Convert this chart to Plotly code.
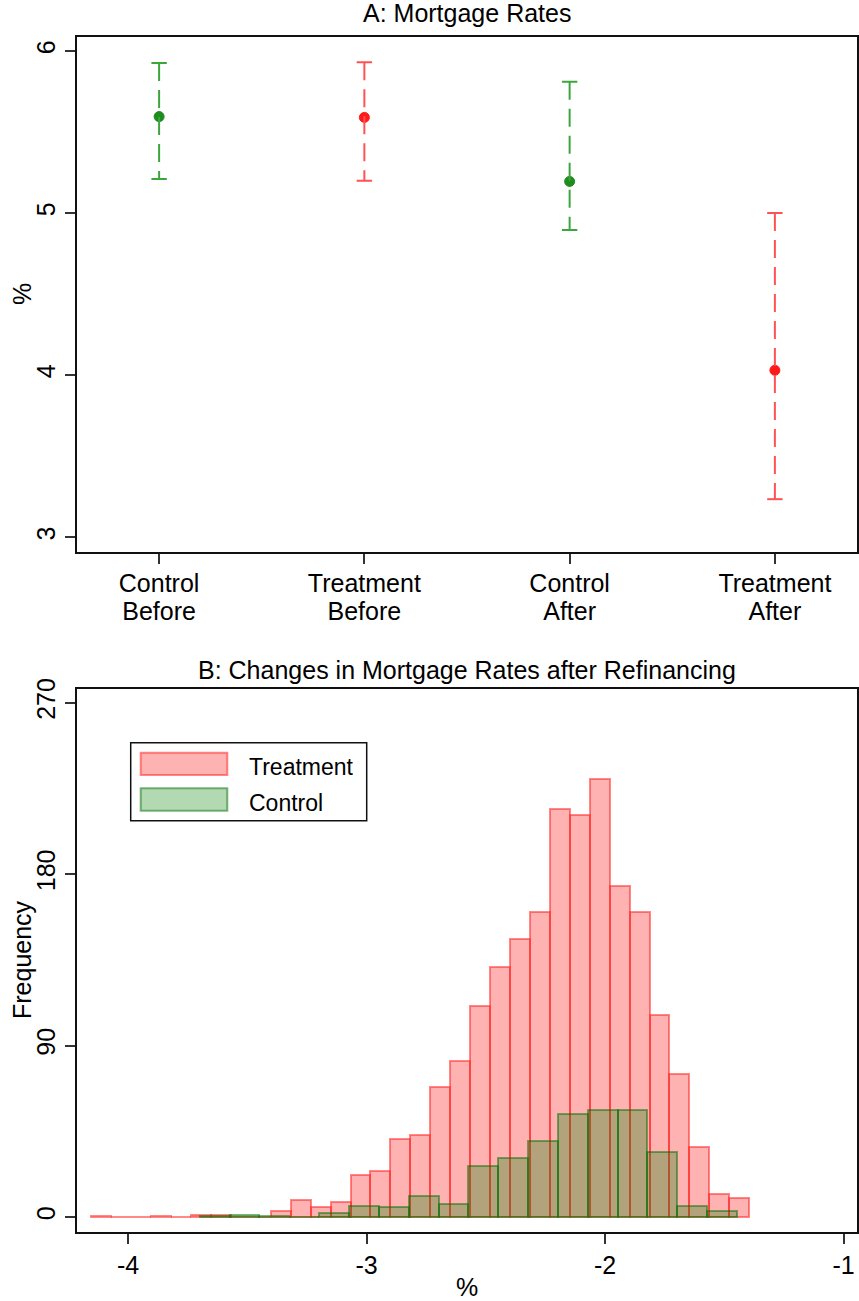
import plotly.graph_objects as go
from plotly.subplots import make_subplots

# ---------------- Panel A data ----------------
group_line1 = ["Control", "Treatment", "Control", "Treatment"]
group_line2 = ["Before", "Before", "After", "After"]
means = [5.595, 5.59, 5.195, 4.03]
ci_low = [5.21, 5.20, 4.895, 3.235]
ci_high = [5.925, 5.93, 5.81, 5.00]
group_is_treatment = [False, True, False, True]

# ---------------- Panel B data ----------------
treat_start = -4.154
treat_width = 0.08358
treat_counts = [0.5, 0, 0, 0.5, 0, 1, 1, 0, 0, 3, 9, 5, 8, 22, 24, 41, 43, 68, 82, 111,
                131, 146, 160, 214, 211, 230, 174, 160, 106, 75, 37, 12, 10]
control_start = -3.6995
control_width = 0.12513
control_counts = [0.5, 1, 0.5, 0, 2, 6, 5, 11, 7, 27, 31, 40, 54, 56, 56, 34, 6, 3]
x_ticks_b = [-4, -3, -2, -1]
x_ticklabels_b = ["-4", "-3", "-2", "-1"]
y_ticks_b = [0, 90, 180, 270]
y_ticks_a = [3, 4, 5, 6]

# colours
GREEN_PT = "#1e8c1e"
GREEN_LN = "#3ca63c"
RED_PT = "#ff1a1a"
RED_LN = "#ff5252"
FONT = "Liberation Sans, Arial, Helvetica, sans-serif"
FS = 25

W, H = 859, 1301
ML, MR, MT, MB = 77, 2, 37, 69
PW = W - ML - MR
PH = H - MT - MB


def px(p):
    return (p - ML) / PW


def py(p):
    return (H - MB - p) / PH


fig = make_subplots(rows=2, cols=1)

# ---------- Panel A: dashed CI lines, caps, points ----------
for is_t, lncol, ptcol in [(False, GREEN_LN, GREEN_PT), (True, RED_LN, RED_PT)]:
    idx = [i for i, t in enumerate(group_is_treatment) if t == is_t]
    lx, ly = [], []
    for i in idx:
        lx += [i, i, None]
        ly += [ci_high[i], ci_low[i], None]
    fig.add_trace(go.Scatter(x=lx, y=ly, mode="lines", xaxis="x3", yaxis="y",
                             line=dict(color=lncol, width=2, dash="18px,9px"),
                             showlegend=False, hoverinfo="skip"))
    cx = [i for i in idx] + [i for i in idx]
    cy = [ci_high[i] for i in idx] + [ci_low[i] for i in idx]
    fig.add_trace(go.Scatter(x=cx, y=cy, mode="markers",
                             marker=dict(symbol="line-ew", size=11,
                                         line=dict(color=lncol, width=2)),
                             showlegend=False, hoverinfo="skip"), row=1, col=1)
    fig.add_trace(go.Scatter(x=idx, y=[means[i] for i in idx], mode="markers",
                             marker=dict(symbol="circle", size=10, color=ptcol,
                                         line=dict(color=ptcol, width=1)),
                             showlegend=False), row=1, col=1)

# ---------- Panel B: overlaid histograms ----------
t_centers = [treat_start + (i + 0.5) * treat_width for i in range(len(treat_counts))]
c_centers = [control_start + (i + 0.5) * control_width for i in range(len(control_counts))]

fig.add_trace(go.Bar(x=t_centers, y=treat_counts, width=treat_width,
                     marker=dict(color="rgba(255,0,0,0.30)",
                                 line=dict(color="rgba(255,40,40,0.55)", width=2)),
                     name="Treatment", showlegend=False), row=2, col=1)
fig.add_trace(go.Bar(x=c_centers, y=control_counts, width=control_width,
                     marker=dict(color="rgba(0,128,0,0.30)",
                                 line=dict(color="rgba(0,110,0,0.50)", width=2)),
                     name="Control", showlegend=False), row=2, col=1)

axis_common = dict(showline=True, mirror=True, linecolor="#111111", linewidth=2,
                   ticks="outside", ticklen=10, tickwidth=1.5, tickcolor="#333333",
                   showgrid=False, zeroline=False, automargin=False,
                   tickfont=dict(family=FONT, size=FS, color="#000000"))

fig.update_xaxes(**axis_common)
fig.update_yaxes(**axis_common)

fig.update_xaxes(row=1, col=1, domain=[0, 1], range=[-0.4, 3.4],
                 tickvals=list(range(len(group_line1))), ticktext=group_line1,
                 ticklabelstandoff=-2)
fig.update_yaxes(row=1, col=1, domain=[py(551.7), 1.0], range=[2.911, 6.086],
                 tickvals=y_ticks_a, tickangle=-90)

fig.update_xaxes(row=2, col=1, domain=[0, 1], range=[-4.2144, -0.9438],
                 tickvals=x_ticks_b, ticktext=x_ticklabels_b,
                 title=dict(text="%", standoff=4, font=dict(family=FONT, size=FS, color="#000")))
fig.update_yaxes(row=2, col=1, domain=[0, py(689)], range=[-7.88, 277.2],
                 tickvals=y_ticks_b, tickangle=-90)

# second line of the category labels in panel A
fig.update_layout(xaxis3=dict(overlaying="x", anchor="y", side="bottom", domain=[0, 1],
                              range=[-0.4, 3.4], tickvals=list(range(len(group_line2))),
                              ticktext=group_line2, ticks="", showline=False, showgrid=False,
                              zeroline=False, ticklabelstandoff=42, automargin=False,
                              tickfont=dict(family=FONT, size=FS, color="#000000")))

annotations = [
    dict(text="A: Mortgage Rates", x=0.5, y=py(13), xref="paper", yref="paper",
         xanchor="center", yanchor="middle", showarrow=False,
         font=dict(family=FONT, size=FS, color="#000")),
    dict(text="B: Changes in Mortgage Rates after Refinancing", x=0.5, y=py(670),
         xref="paper", yref="paper", xanchor="center", yanchor="middle", showarrow=False,
         font=dict(family=FONT, size=FS, color="#000")),
    dict(text="%", x=px(22), y=py(294), xref="paper", yref="paper", textangle=-90,
         xanchor="center", yanchor="middle", showarrow=False,
         font=dict(family=FONT, size=FS, color="#000")),
    dict(text="Frequency", x=px(22), y=py(960), xref="paper", yref="paper", textangle=-90,
         xanchor="center", yanchor="middle", showarrow=False,
         font=dict(family=FONT, size=FS, color="#000")),
    dict(text="Treatment", x=px(246.7), y=py(766.7), xref="paper", yref="paper",
         xanchor="left", yanchor="middle", showarrow=False,
         font=dict(family=FONT, size=23, color="#000")),
    dict(text="Control", x=px(246.7), y=py(802.5), xref="paper", yref="paper",
         xanchor="left", yanchor="middle", showarrow=False,
         font=dict(family=FONT, size=23, color="#000")),
]

shapes = [
    dict(type="rect", xref="paper", yref="paper",
         x0=px(130.7), x1=px(366.7), y0=py(820.7), y1=py(742.7),
         line=dict(color="#111111", width=1.5), fillcolor="white", layer="above"),
    dict(type="rect", xref="paper", yref="paper",
         x0=px(140.7), x1=px(227.3), y0=py(775), y1=py(752.7),
         line=dict(color="rgba(255,40,40,0.55)", width=2), fillcolor="rgba(255,0,0,0.30)", layer="above"),
    dict(type="rect", xref="paper", yref="paper",
         x0=px(140.7), x1=px(227.3), y0=py(810.7), y1=py(788.3),
         line=dict(color="rgba(0,110,0,0.50)", width=2), fillcolor="rgba(0,128,0,0.30)", layer="above"),
]

fig.update_layout(width=W, height=H, margin=dict(l=ML, r=MR, t=MT, b=MB),
                  paper_bgcolor="white", plot_bgcolor="white",
                  barmode="overlay", bargap=0, showlegend=False,
                  font=dict(family=FONT, size=FS, color="#000"),
                  annotations=annotations, shapes=shapes)

fig.write_html("out.html")
